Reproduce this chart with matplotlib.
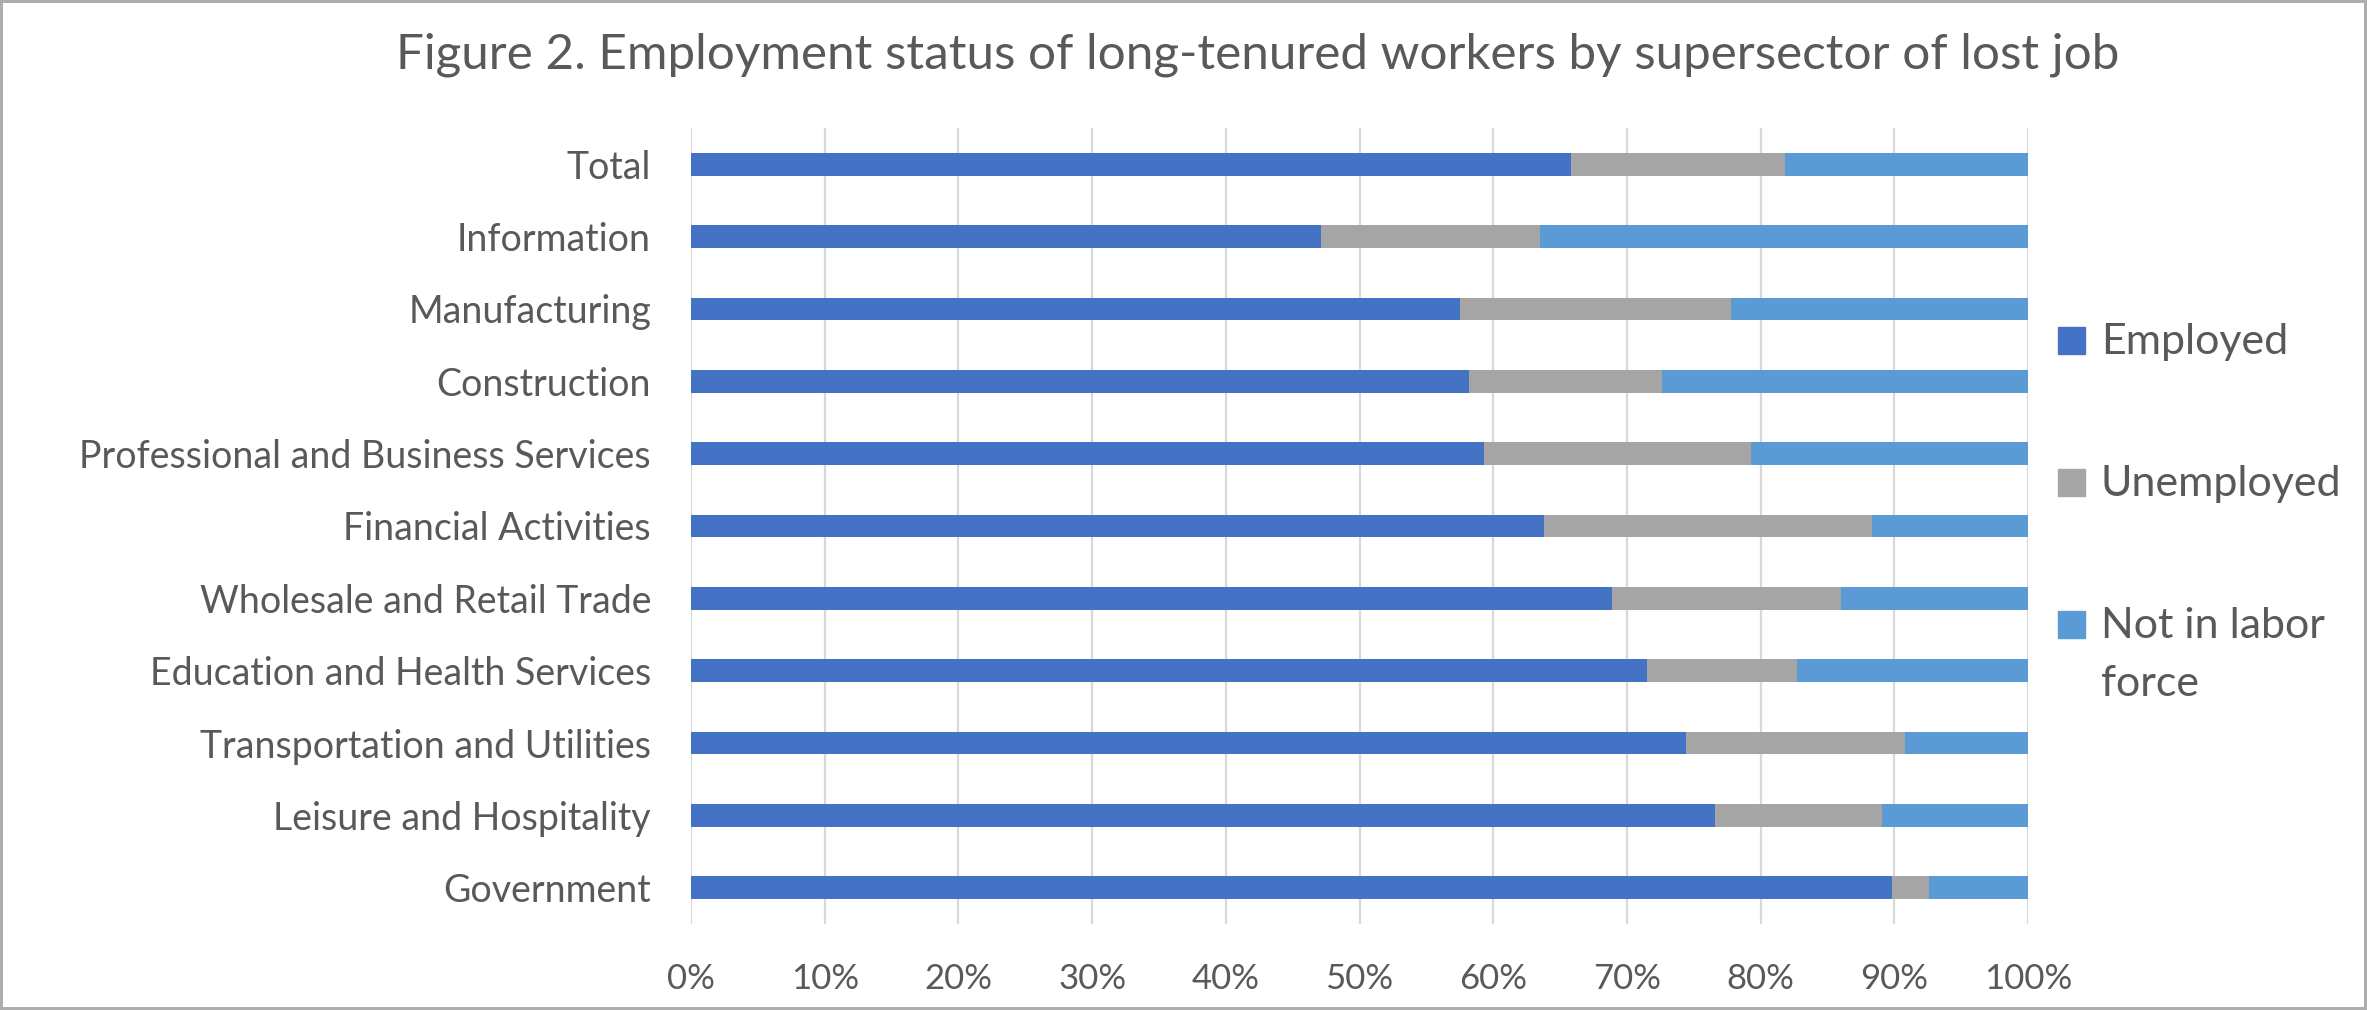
import matplotlib.pyplot as plt
import numpy as np
from matplotlib.patches import Rectangle
from matplotlib.ticker import PercentFormatter

# Employment status of long-tenured displaced workers, share by supersector of lost job

sectors = ["Total", "Information", "Manufacturing", "Construction",
           "Professional and Business Services", "Financial Activities",
           "Wholesale and Retail Trade", "Education and Health Services",
           "Transportation and Utilities", "Leisure and Hospitality", "Government"]
employed = [65.8, 47.1, 57.5, 58.2, 59.3, 63.8, 68.9, 71.5, 74.4, 76.6, 89.8]
unemployed = [16.0, 16.4, 20.3, 14.4, 20.0, 24.5, 17.1, 11.2, 16.4, 12.5, 2.8]
not_in_lf = [18.2, 36.5, 22.2, 27.4, 20.7, 11.7, 14.0, 17.3, 9.2, 10.9, 7.4]

series = ["Employed", "Unemployed", "Not in labor\nforce"]
colors = ["#4472C4", "#A5A5A5", "#5B9BD5"]
txt = "#595959"
font = "Lato"

W, H = 2367, 1010
fig = plt.figure(figsize=(W / 100, H / 100), dpi=100)
ax = fig.add_axes([691 / W, 1 - 924 / H, (2028 - 691) / W, (924 - 128) / H])

y = np.arange(len(sectors))
left = np.zeros(len(sectors))
for vals, c, name in zip([employed, unemployed, not_in_lf], colors, series):
    ax.barh(y, vals, left=left, height=0.313, color=c, label=name, linewidth=0, zorder=3)
    left = left + np.array(vals)

ax.set_xlim(0, 100)
ax.set_ylim(len(sectors) - 0.5, -0.5)
ax.set_xticks(np.arange(0, 101, 10))
ax.xaxis.set_major_formatter(PercentFormatter(100, decimals=0))
ax.set_yticks(y)
ax.set_yticklabels(sectors)
ax.grid(axis="x", color="#D9D9D9", linewidth=1.6, zorder=0)
for s in ax.spines.values():
    s.set_visible(False)
ax.tick_params(axis="both", length=0, colors=txt)
ax.tick_params(axis="y", pad=28.8, labelsize=27)
ax.tick_params(axis="x", pad=28, labelsize=25)
for lab in ax.get_xticklabels() + ax.get_yticklabels():
    lab.set_fontfamily(font)

fig.text(1258 / W, 1 - 68 / H,
         "Figure 2. Employment status of long-tenured workers by supersector of lost job",
         ha="center", va="baseline", fontsize=35.6, color=txt, family=font)

# legend on the right, square beside the first line of each label
baselines = [354, 496, 638]
for name, c, b in zip(series, colors, baselines):
    fig.patches.append(Rectangle((2058 / W, 1 - b / H), 27 / W, 27 / H,
                                 transform=fig.transFigure, color=c))
    for i, line in enumerate(name.split("\n")):
        fig.text(2101 / W, 1 - (b + 58 * i) / H, line, ha="left", va="baseline",
                 fontsize=31, color=txt, family=font)

# chart border
fig.patches.append(Rectangle((0, 0), 1, 1, transform=fig.transFigure,
                             fill=False, edgecolor="#ADADAD", linewidth=4.3))

fig.savefig("out.png", dpi=100, facecolor="white")
